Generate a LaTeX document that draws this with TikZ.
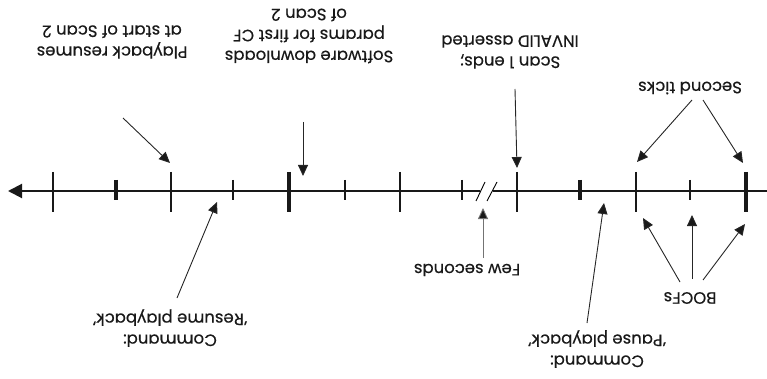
\documentclass[tikz,border=0pt]{standalone}
\usepackage{fontspec}
\setmainfont{Poppins}[FakeBold=0.4]
\usetikzlibrary{arrows.meta}
\begin{document}
\begin{tikzpicture}[x=1pt,y=-1pt,
  axisline/.style={line width=2pt, draw=black!90},
  thintick/.style={line width=1.8pt, draw=black!90},
  thicktick/.style={line width=4pt, draw=black!90},
  pointer/.style={line width=0.9pt, draw=black!85, -{Triangle[length=11pt,width=10pt,fill=black!90]}},
  label/.style={rotate=180, align=center, font=\fontsize{16.5}{21}\selectfont, inner sep=0pt, text=black!90}]
\useasboundingbox (0,0) rectangle (767,379);

% time axis, broken between the two slashes
\coordinate (axL) at (8,191);
\coordinate (brkA) at (480,191);
\coordinate (brkB) at (493,191);
\coordinate (axR) at (767,191);
\draw[axisline, {Triangle[length=14pt,width=14pt]}-] (axL) -- (brkA);
\draw[axisline] (brkB) -- (axR);
\draw[line width=0.9pt] (476,201) -- (485,182);
\draw[line width=0.9pt] (487,201) -- (497,182);

% ticks
\foreach \x in {53,171,400,517,636} \draw[thintick] (\x,172) -- (\x,212);
\foreach \x in {233,345,462,690} \draw[thintick] (\x,180) -- (\x,200);
\foreach \x in {289,746} \draw[thicktick] (\x,172) -- (\x,212);
\foreach \x in {116,580} \draw[thicktick] (\x,180) -- (\x,200);

% labels
\node[label] (play) at (112,42) {Playback resumes\\at start of Scan 2};
\node[label] (soft) at (309,36) {Software downloads\\params for first CF\\of Scan 2};
\node[label] (scan) at (510,52) {Scan 1 ends;\\INVALID asserted};
\node[label] (tick) at (690,88) {Second ticks};
\node[label] (resume) at (170,328) {Command:\\`Resume playback'};
\node[label] (few) at (467,270) {Few seconds};
\node[label] (pause) at (597,349) {Command:\\`Pause playback'};
\node[label] (bocf) at (690,298) {BOCFs};

% arrow targets on the axis
\coordinate (tPlay) at (170,163);
\coordinate (tSoft) at (303,176);
\coordinate (tScan) at (517,168);
\coordinate (tTickL) at (637,162);
\coordinate (tTickR) at (743,163);
\coordinate (tResume) at (217,202);
\coordinate (tFew) at (483,208);
\coordinate (tPause) at (604,203);
\coordinate (tBocfL) at (643,218);
\coordinate (tBocfM) at (692,215);
\coordinate (tBocfR) at (745,224);

% pointers
\draw[pointer] (123,118) -- (tPlay);
\draw[pointer] (303,122) -- (tSoft);
\draw[pointer] (515,89) -- (tScan);
\draw[pointer] (692,100) -- (tTickL);
\draw[pointer] (703,100) -- (tTickR);
\draw[pointer] (177,298) -- (tResume);
\draw[pointer, draw=black!55] (483,258) -- (tFew);
\draw[pointer] (587,323) -- (tPause);
\draw[pointer] (680,282) -- (tBocfL);
\draw[pointer] (692,279) -- (tBocfM);
\draw[pointer] (703,280) -- (tBocfR);
\end{tikzpicture}
\end{document}
